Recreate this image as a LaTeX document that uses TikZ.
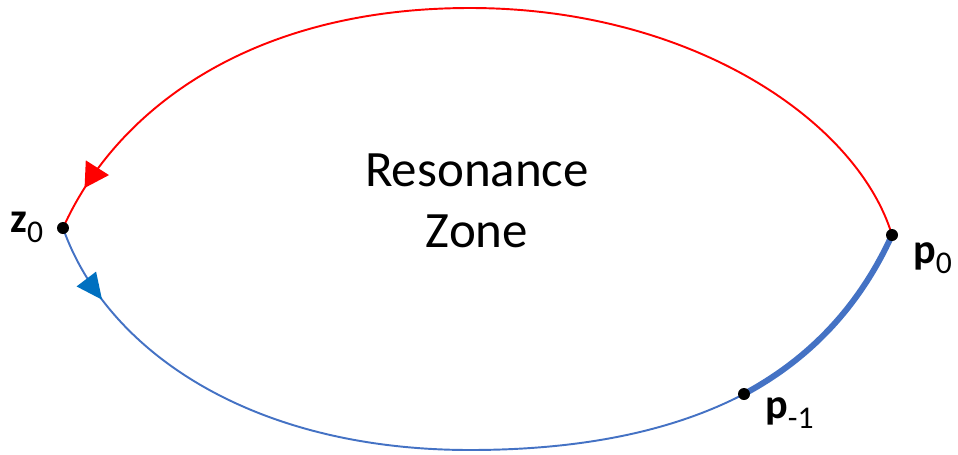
\documentclass[tikz,border=0pt]{standalone}
\usepackage{fontspec}
\setmainfont{Carlito}
\usetikzlibrary{arrows.meta,decorations.markings,backgrounds}
\definecolor{myred}{RGB}{255,0,0}
\definecolor{lineblue}{RGB}{68,114,196}
\definecolor{arrowblue}{RGB}{0,112,192}
\newcommand{\ptlabel}[2]{\fontsize{24}{24}\selectfont\textbf{#1}\raisebox{-6pt}{\fontsize{18}{18}\selectfont #2}}
\begin{document}
\begin{tikzpicture}[x=0.02cm,y=-0.02cm,
  dot/.style={circle,fill=black,inner sep=0pt,minimum size=0.24cm},
  labeltext/.style={inner sep=0pt,anchor=base west},
  redarc/.style={draw=myred,line width=1.1pt},
  bluearc/.style={draw=lineblue,line width=1.1pt},
  thickarc/.style={draw=lineblue,line width=3.4pt},
  redtip/.style={postaction={decorate},decoration={markings,
     mark=at position -0.91cm with {\arrow[myred]{Triangle[length=0.48cm,width=0.54cm]}}}},
  bluetip/.style={postaction={decorate},decoration={markings,
     mark=at position 1.64cm with {\arrow[arrowblue]{Triangle[length=0.52cm,width=0.48cm]}}}}
]
\useasboundingbox (0,0) rectangle (958,454);

\node[dot] (z0) at (63,228) {};
\node[dot] (p0) at (892,235) {};
\node[dot] (p1) at (744,394) {};
\coordinate (top) at (470,8);
\coordinate (bot) at (470,450);

\node[labeltext] (z0l) at (10,232) {\ptlabel{z}{0}};
\node[labeltext] (p0l) at (913,263) {\ptlabel{p}{0}};
\node[labeltext] (p1l) at (765,418) {\ptlabel{p}{-1}};

\node[font=\fontsize{29}{35}\selectfont,align=center,inner sep=0pt] (rz) at (477,201) {Resonance\\Zone};

\begin{scope}[on background layer]
\draw[redarc,redtip] (p0.center) .. controls (857,120) and (690,8) .. (top)
   .. controls (250,8) and (116,110) .. (z0.center);
\draw[bluearc,bluetip] (z0.center) .. controls (106,350) and (250,450) .. (bot)
   .. controls (585,450) and (675,430) .. (p1.center)
   .. controls (813,357) and (861,303) .. (p0.center);
\draw[thickarc] (p1.center) .. controls (813,357) and (861,303) .. (p0.center);
\end{scope}
\end{tikzpicture}
\end{document}
